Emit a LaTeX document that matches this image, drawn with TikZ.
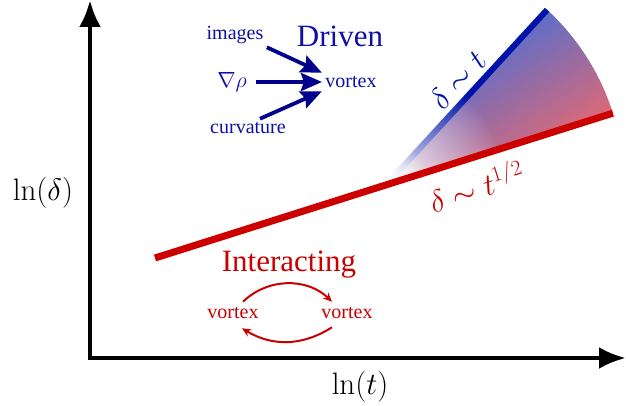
\RequirePackage{fix-cm}
\documentclass[tikz,border=0pt]{standalone}
\usepackage[no-math]{fontspec}
\setmainfont{Liberation Serif}
\usetikzlibrary{arrows.meta,calc,fadings}
\definecolor{drvblue}{RGB}{15,15,165}
\definecolor{arrblue}{RGB}{0,0,140}
\definecolor{lineblue}{RGB}{0,20,170}
\definecolor{intred}{RGB}{200,0,0}
\definecolor{linered}{RGB}{205,0,0}
\definecolor{wblue}{RGB}{90,110,205}
\definecolor{wred}{RGB}{225,105,115}
\tikzfading[name=apexfade, inner color=transparent!0, outer color=transparent!100]
\begin{document}
\begin{tikzpicture}[x=1pt,y=1pt,
  axisline/.style={line width=4.5pt},
  axlabel/.style={font=\fontsize{31}{34}\selectfont},
  big/.style={font=\fontsize{31}{34}\selectfont},
  small/.style={font=\fontsize{20}{22}\selectfont},
  mathlbl/.style={font=\fontsize{31}{34}\selectfont},
  drvtext/.style={text=drvblue},
  drvarrow/.style={draw=arrblue, line width=3.8pt, -{Stealth[length=21pt,width=18pt,inset=3pt]}},
  intarrow/.style={draw=intred, line width=2pt, -{Stealth[length=9pt,width=8pt]}}]
\useasboundingbox (0,0) rectangle (626,406);

% axes
\coordinate (O) at (90,48);
\coordinate (ytop) at (90,406);
\coordinate (xend) at (626,48);
\draw[axisline, {Latex[length=27pt,width=22pt]}-{Latex[length=27pt,width=22pt]}] (ytop) -- (O) -- (xend);
\node[axlabel] (ly) at (43,213) {$\ln(\delta)$};
\node[axlabel] (lt) at (360,19) {$\ln(t)$};

% wedge
\coordinate (A) at (386,221);
\coordinate (B) at ($(A)+(47.4:238)$);
\coordinate (R) at ($(A)+(17.57:238)$);
\coordinate (S) at (155,148);
\begin{scope}
\clip (A) -- (R) arc[start angle=17.57,end angle=47.4,radius=238] -- cycle;
\foreach \i in {0,...,39}{
  \pgfmathsetmacro\va{-64+\i*3.2}
  \pgfmathsetmacro\vb{\va+3.7}
  \pgfmathsetmacro\p{100*(\i+0.5)/40}
  \fill[wblue!\p!wred] ($(A)+(122.5:\va)$) -- ($(A)+(122.5:\vb)$) -- ($(A)+(122.5:\vb)+(32.5:250)$) -- ($(A)+(122.5:\va)+(32.5:250)$) -- cycle;
}
\end{scope}
\draw[line width=6pt, lineblue] (A) -- (B);
\fill[white, path fading=apexfade] (A) circle (120);
\fill[white, path fading=apexfade] (A) circle (44);
\path (A) -- (B) node[pos=0.53, sloped, above=4pt, mathlbl, text=lineblue] (lb) {$\delta\sim t$};
\draw[line width=7pt, linered] (S) -- (R) node[pos=0.683, sloped, below=7pt, mathlbl, text=linered] (lr) {$\delta\sim t^{1/2}$};

% driven
\node[small, drvtext] (img) at (235,371) {images};
\node[big, drvtext] (drv) at (340,370) {Driven};
\node[font=\fontsize{22}{24}\selectfont, drvtext] (grad) at (232,324) {$\nabla\rho$};
\node[small, drvtext] (vtx) at (351,324) {vortex};
\node[small, drvtext] (curv) at (248,278) {curvature};
\draw[drvarrow] (img.south east) -- (vtx.north west);
\draw[drvarrow, shorten <=6pt] (grad.east) -- (vtx.west);
\draw[drvarrow] ($(curv.north)+(12,0)$) -- (vtx.south west);

% interacting
\node[big, text=intred] (int) at (289,141) {Interacting};
\node[small, text=intred] (vl) at (233,93) {vortex};
\node[small, text=intred] (vr) at (347,93) {vortex};
\draw[intarrow] ($(vl.north)+(10,2)$) to[bend left=44] ($(vr.north)+(-15,2)$);
\draw[intarrow] ($(vr.south)+(-15,-5)$) to[bend left=32] ($(vl.south)+(9,-6)$);
\end{tikzpicture}
\end{document}
